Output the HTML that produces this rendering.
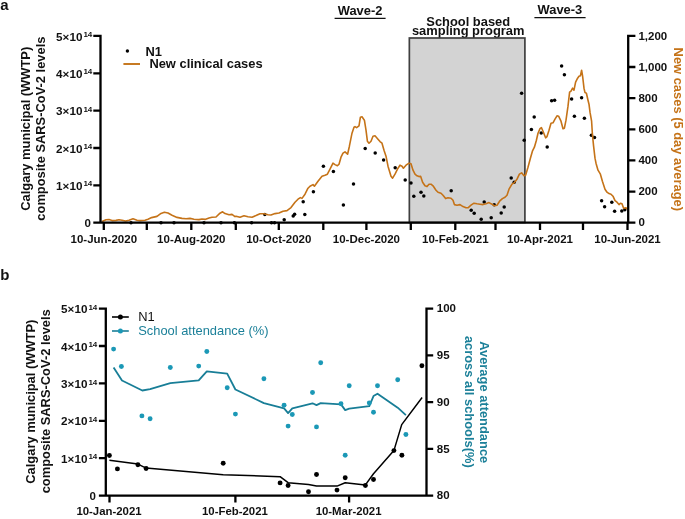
<!DOCTYPE html>
<html lang="en"><head><meta charset="utf-8"><title>Figure</title>
<style>html,body{margin:0;padding:0;background:#fff}body{width:685px;height:519px;overflow:hidden}svg{display:block}text{font-family:"Liberation Sans",Arial,Helvetica,sans-serif;fill:#111}.b{font-weight:700}.t{font-size:11.5px;font-weight:700}.l{font-size:12.9px;font-weight:700}.r{font-size:12.9px}.s{font-size:8px;font-weight:700}</style></head><body>
<svg width="685" height="519" viewBox="0 0 685 519">
<rect width="685" height="519" fill="#fff"/>
<text x="0.3" y="10.3" class="b" style="font-size:15px">a</text>
<text class="l" text-anchor="middle" transform="translate(29.8,128.8) rotate(-90)">Calgary municipal (WWTP)</text>
<text class="l" text-anchor="middle" transform="translate(44.9,128.6) rotate(-90)">composite SARS-CoV-2 levels</text>
<text class="l" x="337.7" y="15.2">Wave-2</text>
<line x1="334.6" x2="385.6" y1="18.4" y2="18.4" stroke="#111" stroke-width="1.1"/>
<text class="l" x="537.6" y="14.4">Wave-3</text>
<line x1="534.4" x2="585.6" y1="17.6" y2="17.6" stroke="#111" stroke-width="1.1"/>
<text class="l" x="468.2" y="26.3" text-anchor="middle">School based</text>
<text class="l" x="468.2" y="35.3" text-anchor="middle">sampling program</text>
<rect x="409.35" y="38.0" width="115.55" height="184.5" fill="#d3d3d3" stroke="#404040" stroke-width="1.7"/>
<g fill="#000">
<circle cx="131.0" cy="222.7" r="1.75"/>
<circle cx="161.0" cy="222.7" r="1.75"/>
<circle cx="174.0" cy="222.7" r="1.75"/>
<circle cx="204.0" cy="222.7" r="1.75"/>
<circle cx="221.0" cy="222.7" r="1.75"/>
<circle cx="234.4" cy="222.7" r="1.75"/>
<circle cx="251.6" cy="222.7" r="1.75"/>
<circle cx="271.5" cy="222.7" r="1.75"/>
<circle cx="274.5" cy="222.7" r="1.75"/>
<circle cx="264.8" cy="214.5" r="1.75"/>
<circle cx="284.2" cy="219.7" r="1.75"/>
<circle cx="293.2" cy="216.1" r="1.75"/>
<circle cx="294.6" cy="214.3" r="1.75"/>
<circle cx="304.8" cy="214.5" r="1.75"/>
<circle cx="303.2" cy="201.7" r="1.75"/>
<circle cx="313.4" cy="191.7" r="1.75"/>
<circle cx="323.4" cy="166.3" r="1.75"/>
<circle cx="333.4" cy="171.5" r="1.75"/>
<circle cx="343.4" cy="204.9" r="1.75"/>
<circle cx="353.5" cy="184.1" r="1.75"/>
<circle cx="365.2" cy="148.5" r="1.75"/>
<circle cx="375.2" cy="153.1" r="1.75"/>
<circle cx="383.6" cy="160.1" r="1.75"/>
<circle cx="395.2" cy="167.7" r="1.75"/>
<circle cx="405.2" cy="179.9" r="1.75"/>
<circle cx="411.0" cy="182.9" r="1.75"/>
<circle cx="413.8" cy="196.3" r="1.75"/>
<circle cx="421.0" cy="192.3" r="1.75"/>
<circle cx="423.8" cy="195.9" r="1.75"/>
<circle cx="451.2" cy="190.7" r="1.75"/>
<circle cx="471.2" cy="210.3" r="1.75"/>
<circle cx="474.2" cy="213.3" r="1.75"/>
<circle cx="481.2" cy="219.3" r="1.75"/>
<circle cx="484.2" cy="201.9" r="1.75"/>
<circle cx="491.2" cy="217.7" r="1.75"/>
<circle cx="494.2" cy="204.7" r="1.75"/>
<circle cx="501.2" cy="213.1" r="1.75"/>
<circle cx="504.2" cy="207.1" r="1.75"/>
<circle cx="511.2" cy="178.1" r="1.75"/>
<circle cx="514.2" cy="182.3" r="1.75"/>
<circle cx="524.2" cy="140.3" r="1.75"/>
<circle cx="521.6" cy="93.2" r="1.75"/>
<circle cx="531.4" cy="129.6" r="1.75"/>
<circle cx="534.2" cy="117.1" r="1.75"/>
<circle cx="541.2" cy="133.1" r="1.75"/>
<circle cx="547.2" cy="147.1" r="1.75"/>
<circle cx="551.6" cy="100.7" r="1.75"/>
<circle cx="554.6" cy="100.3" r="1.75"/>
<circle cx="561.6" cy="65.9" r="1.75"/>
<circle cx="564.4" cy="74.7" r="1.75"/>
<circle cx="571.6" cy="99.1" r="1.75"/>
<circle cx="574.4" cy="116.3" r="1.75"/>
<circle cx="581.6" cy="97.7" r="1.75"/>
<circle cx="584.4" cy="118.3" r="1.75"/>
<circle cx="591.4" cy="135.2" r="1.75"/>
<circle cx="594.5" cy="137.6" r="1.75"/>
<circle cx="601.6" cy="200.7" r="1.75"/>
<circle cx="604.6" cy="206.7" r="1.75"/>
<circle cx="611.8" cy="202.3" r="1.75"/>
<circle cx="614.6" cy="211.3" r="1.75"/>
<circle cx="621.8" cy="211.1" r="1.75"/>
<circle cx="624.8" cy="209.7" r="1.75"/>
</g>
<polyline fill="none" stroke="#C57318" stroke-width="1.6" stroke-linejoin="round" points="102.0,221.4 106.0,219.8 109.0,219.6 112.0,220.6 116.0,220.4 119.0,219.8 122.0,220.2 125.6,221.0 129.0,220.2 133.0,218.8 137.0,220.2 140.0,220.6 145.0,220.2 148.0,219.2 151.6,217.6 157.0,216.4 161.0,213.4 164.4,212.2 168.0,213.0 172.0,215.2 177.0,217.4 182.0,218.4 186.0,218.8 190.0,218.4 194.0,219.2 199.0,219.6 202.0,219.0 205.0,219.4 209.0,218.0 212.0,217.2 216.0,217.0 220.0,213.2 222.6,211.8 225.0,213.6 229.0,214.8 232.0,214.4 235.0,216.6 236.0,216.2 240.0,217.2 244.0,215.8 248.0,216.8 252.0,217.2 256.0,215.6 260.0,213.8 264.0,213.8 268.0,214.8 271.0,215.0 275.0,213.6 279.0,213.0 283.0,211.2 287.0,210.6 291.0,207.6 295.0,202.2 298.0,199.2 300.4,197.6 302.0,198.4 305.0,194.2 308.0,188.2 310.0,186.2 313.0,184.6 314.4,186.2 318.0,181.2 322.0,176.2 325.0,175.2 327.4,174.2 330.0,169.2 333.0,163.2 335.0,164.6 337.4,165.8 339.0,164.2 341.0,157.2 343.0,153.2 345.0,151.8 347.6,154.2 349.4,146.2 352.0,133.2 354.0,127.2 355.0,126.6 356.6,127.6 359.0,125.8 360.4,117.2 362.0,116.8 364.4,120.2 366.0,130.2 367.4,141.2 369.0,143.2 371.0,141.2 373.0,136.2 375.0,135.8 378.0,139.2 380.0,141.6 382.0,143.2 384.0,150.2 386.0,156.2 388.0,166.2 391.0,176.2 392.6,178.2 395.0,174.2 398.0,168.2 400.0,165.2 402.0,166.2 403.4,168.2 406.0,165.2 409.0,163.2 411.0,163.8 413.0,170.2 415.0,174.2 417.0,175.8 419.0,176.6 420.6,176.2 422.6,182.2 425.0,185.8 427.0,186.6 429.0,184.2 431.0,184.2 433.0,185.8 436.0,190.2 438.0,192.2 441.0,193.2 443.0,195.2 445.6,198.6 448.0,197.8 451.0,198.2 453.0,200.2 454.4,204.6 457.0,205.2 460.0,204.6 463.0,206.6 466.0,207.8 468.0,207.8 471.0,205.2 474.0,203.2 477.0,203.8 480.0,204.2 483.0,204.6 486.0,203.8 489.0,202.6 492.0,204.2 494.4,205.8 497.0,205.2 499.6,201.2 502.4,198.6 505.0,197.2 507.0,195.2 509.0,189.2 512.0,184.2 514.4,182.6 517.0,179.2 519.4,174.2 521.6,172.8 524.0,175.8 525.6,175.2 528.0,167.2 530.4,158.2 532.4,151.2 534.4,147.2 536.4,140.2 538.0,133.2 540.0,128.6 541.4,127.6 543.0,131.2 545.6,137.8 547.0,136.6 549.0,130.2 551.0,123.2 553.0,122.8 555.0,119.2 557.0,115.8 558.6,116.2 561.0,121.2 563.0,128.8 564.4,128.2 566.0,120.2 568.0,106.2 569.6,92.2 571.0,91.2 572.6,88.2 574.0,90.2 575.6,82.2 577.6,78.2 579.0,76.2 580.4,75.8 581.6,70.2 582.6,76.2 584.0,88.2 585.0,92.6 586.4,93.2 588.0,100.2 589.0,104.2 590.0,112.2 591.6,121.2 592.4,134.2 593.6,146.2 595.0,158.2 596.0,163.2 598.0,170.2 600.4,174.2 602.4,181.2 605.0,189.2 607.0,192.2 609.0,193.6 611.0,194.2 613.0,196.2 615.0,200.6 617.0,202.2 619.0,204.6 620.4,203.2 622.0,203.8 623.6,208.2 626.0,207.8 627.4,209.2"/>
<path d="M100.5,34.75V223.85 M99.5,222.7H629.3 M93.3,35.9H100.5 M93.3,73.3H100.5 M93.3,110.6H100.5 M93.3,148.0H100.5 M93.3,185.3H100.5 M93.3,222.7H100.5 M103.8,222.7V230 M146.8,222.7V230 M191.3,222.7V230 M235.8,222.7V230 M278.8,222.7V230 M323.3,222.7V230 M366.4,222.7V230 M410.8,222.7V230 M455.3,222.7V230 M495.5,222.7V230 M540.0,222.7V230 M583.0,222.7V230 M627.5,222.7V230 M628.2,34.75V223.85 M628.2,35.9H635.4 M628.2,67.0H635.4 M628.2,98.2H635.4 M628.2,129.3H635.4 M628.2,160.4H635.4 M628.2,191.6H635.4 M628.2,222.7H635.4" stroke="#000" stroke-width="2.3" fill="none"/>
<text class="t" style="font-size:11.7px" x="82.4" y="40.5" text-anchor="end">5×10</text><text class="s" x="83.4" y="37.0">14</text>
<text class="t" style="font-size:11.7px" x="82.4" y="77.9" text-anchor="end">4×10</text><text class="s" x="83.4" y="74.4">14</text>
<text class="t" style="font-size:11.7px" x="82.4" y="115.2" text-anchor="end">3×10</text><text class="s" x="83.4" y="111.7">14</text>
<text class="t" style="font-size:11.7px" x="82.4" y="152.6" text-anchor="end">2×10</text><text class="s" x="83.4" y="149.1">14</text>
<text class="t" style="font-size:11.7px" x="82.4" y="189.9" text-anchor="end">1×10</text><text class="s" x="83.4" y="186.4">14</text>
<text class="t" x="91" y="226.6" text-anchor="end">0</text>
<text class="t" x="103.8" y="242.9" text-anchor="middle">10-Jun-2020</text>
<text class="t" x="191.3" y="242.9" text-anchor="middle">10-Aug-2020</text>
<text class="t" x="278.8" y="242.9" text-anchor="middle">10-Oct-2020</text>
<text class="t" x="366.4" y="242.9" text-anchor="middle">10-Dec-2020</text>
<text class="t" x="455.3" y="242.9" text-anchor="middle">10-Feb-2021</text>
<text class="t" x="540.0" y="242.9" text-anchor="middle">10-Apr-2021</text>
<text class="t" x="627.5" y="242.9" text-anchor="middle">10-Jun-2021</text>
<text class="t" x="638.4" y="39.6">1,200</text>
<text class="t" x="638.4" y="70.7">1,000</text>
<text class="t" x="638.4" y="101.9">800</text>
<text class="t" x="638.4" y="133.0">600</text>
<text class="t" x="638.4" y="164.1">400</text>
<text class="t" x="638.4" y="195.2">200</text>
<text class="t" x="638.4" y="226.4">0</text>
<text class="l" style="fill:#C57318" text-anchor="middle" transform="translate(673.6,129.3) rotate(90)">New cases (5 day average)</text>
<circle cx="127.4" cy="51" r="1.7" fill="#000"/>
<text class="l" x="145.4" y="56">N1</text>
<line x1="123.4" x2="140" y1="64" y2="64" stroke="#C57318" stroke-width="1.9"/>
<text class="l" x="149.4" y="68.4">New clinical cases</text>
<text x="0.3" y="279.6" class="b" style="font-size:15px">b</text>
<text class="l" text-anchor="middle" transform="translate(35,401.7) rotate(-90)">Calgary municipal (WWTP)</text>
<text class="l" text-anchor="middle" transform="translate(50.0,401.3) rotate(-90)">composite SARS-CoV-2 levels</text>
<polyline fill="none" stroke="#187E97" stroke-width="1.8" stroke-linejoin="round" points="113.6,367.5 122.0,380.5 142.3,390.5 150.1,389.1 170.3,383.1 198.7,380.3 206.8,371.3 227.2,373.7 235.4,389.5 263.9,403.1 284.1,408.3 288.1,413.1 292.3,408.3 312.5,403.3 316.5,405.1 320.7,403.1 341.0,404.4 345.2,410.1 349.2,408.7 369.3,406.1 373.5,396.1 377.5,393.7 397.7,407.7 405.9,415.1"/>
<g fill="#1B98B6">
<circle cx="113.6" cy="349.1" r="2.45"/>
<circle cx="121.4" cy="366.5" r="2.45"/>
<circle cx="170.3" cy="367.5" r="2.45"/>
<circle cx="198.7" cy="366.1" r="2.45"/>
<circle cx="206.8" cy="351.5" r="2.45"/>
<circle cx="227.2" cy="387.7" r="2.45"/>
<circle cx="141.9" cy="415.9" r="2.45"/>
<circle cx="150.1" cy="418.7" r="2.45"/>
<circle cx="235.4" cy="414.1" r="2.45"/>
<circle cx="263.9" cy="378.7" r="2.45"/>
<circle cx="284.1" cy="405.3" r="2.45"/>
<circle cx="292.3" cy="414.5" r="2.45"/>
<circle cx="288.1" cy="426.1" r="2.45"/>
<circle cx="312.5" cy="392.5" r="2.45"/>
<circle cx="320.7" cy="362.8" r="2.45"/>
<circle cx="316.5" cy="426.9" r="2.45"/>
<circle cx="341.0" cy="403.7" r="2.45"/>
<circle cx="349.2" cy="385.8" r="2.45"/>
<circle cx="345.2" cy="455.3" r="2.45"/>
<circle cx="369.3" cy="402.9" r="2.45"/>
<circle cx="373.5" cy="412.3" r="2.45"/>
<circle cx="377.5" cy="385.7" r="2.45"/>
<circle cx="397.7" cy="379.7" r="2.45"/>
<circle cx="405.9" cy="434.5" r="2.45"/>
</g>
<polyline fill="none" stroke="#000" stroke-width="1.5" stroke-linejoin="round" points="109.4,460.3 137.9,464.1 146.1,468.1 223.2,474.7 280.1,476.7 288.1,482.7 308.5,484.5 316.5,486.1 337.0,486.1 345.2,482.7 365.4,484.9 373.5,473.7 393.9,450.6 401.7,424.6 422.1,397.5"/>
<g fill="#000">
<circle cx="109.4" cy="455.5" r="2.45"/>
<circle cx="117.4" cy="468.9" r="2.45"/>
<circle cx="137.9" cy="464.7" r="2.45"/>
<circle cx="146.1" cy="468.5" r="2.45"/>
<circle cx="223.2" cy="463.3" r="2.45"/>
<circle cx="280.1" cy="482.9" r="2.45"/>
<circle cx="288.1" cy="485.5" r="2.45"/>
<circle cx="308.5" cy="491.7" r="2.45"/>
<circle cx="316.5" cy="474.5" r="2.45"/>
<circle cx="337.0" cy="490.1" r="2.45"/>
<circle cx="345.2" cy="477.7" r="2.45"/>
<circle cx="365.4" cy="485.5" r="2.45"/>
<circle cx="373.5" cy="479.5" r="2.45"/>
<circle cx="393.9" cy="450.6" r="2.45"/>
<circle cx="401.9" cy="455.3" r="2.45"/>
<circle cx="421.9" cy="365.8" r="2.45"/>
</g>
<path d="M105.8,307.45000000000005V496.75 M104.7,495.6H427.6 M98.9,308.6H105.8 M98.9,346.0H105.8 M98.9,383.4H105.8 M98.9,420.8H105.8 M98.9,458.2H105.8 M98.9,495.6H105.8 M109.5,495.6V502.5 M235.4,495.6V502.5 M349.1,495.6V502.5 M426.5,307.45V496.75 M426.5,308.6H433.2 M426.5,355.4H433.2 M426.5,402.1H433.2 M426.5,448.9H433.2 M426.5,495.6H433.2" stroke="#000" stroke-width="2.3" fill="none"/>
<text class="t" style="font-size:11.7px" x="87.4" y="313.2" text-anchor="end">5×10</text><text class="s" x="88.4" y="309.7">14</text>
<text class="t" style="font-size:11.7px" x="87.4" y="350.6" text-anchor="end">4×10</text><text class="s" x="88.4" y="347.1">14</text>
<text class="t" style="font-size:11.7px" x="87.4" y="388.0" text-anchor="end">3×10</text><text class="s" x="88.4" y="384.5">14</text>
<text class="t" style="font-size:11.7px" x="87.4" y="425.4" text-anchor="end">2×10</text><text class="s" x="88.4" y="421.9">14</text>
<text class="t" style="font-size:11.7px" x="87.4" y="462.8" text-anchor="end">1×10</text><text class="s" x="88.4" y="459.3">14</text>
<text class="t" x="96" y="499.5" text-anchor="end">0</text>
<text class="t" style="font-size:11.4px" x="109.0" y="515.2" text-anchor="middle">10-Jan-2021</text>
<text class="t" style="font-size:11.4px" x="234.9" y="515.2" text-anchor="middle">10-Feb-2021</text>
<text class="t" style="font-size:11.4px" x="348.6" y="515.2" text-anchor="middle">10-Mar-2021</text>
<text class="t" x="436.8" y="312.2">100</text>
<text class="t" x="436.8" y="359.0">95</text>
<text class="t" x="436.8" y="405.7">90</text>
<text class="t" x="436.8" y="452.5">85</text>
<text class="t" x="436.8" y="499.2">80</text>
<text class="l" style="fill:#1C8099" text-anchor="middle" transform="translate(480.4,402.2) rotate(90)">Average attendance</text>
<text class="l" style="fill:#1C8099" text-anchor="middle" transform="translate(464.9,401.8) rotate(90)">across all schools(%)</text>
<line x1="112" x2="128.8" y1="317" y2="317" stroke="#000" stroke-width="1.6"/><circle cx="120.4" cy="317" r="2.5" fill="#000"/>
<text class="r" x="138.2" y="321.2">N1</text>
<line x1="112" x2="128.8" y1="331" y2="331" stroke="#187E97" stroke-width="1.6"/><circle cx="120.4" cy="331" r="2.5" fill="#1B98B6"/>
<text class="r" style="fill:#1C8099" x="138.2" y="335">School attendance (%)</text>
</svg></body></html>
